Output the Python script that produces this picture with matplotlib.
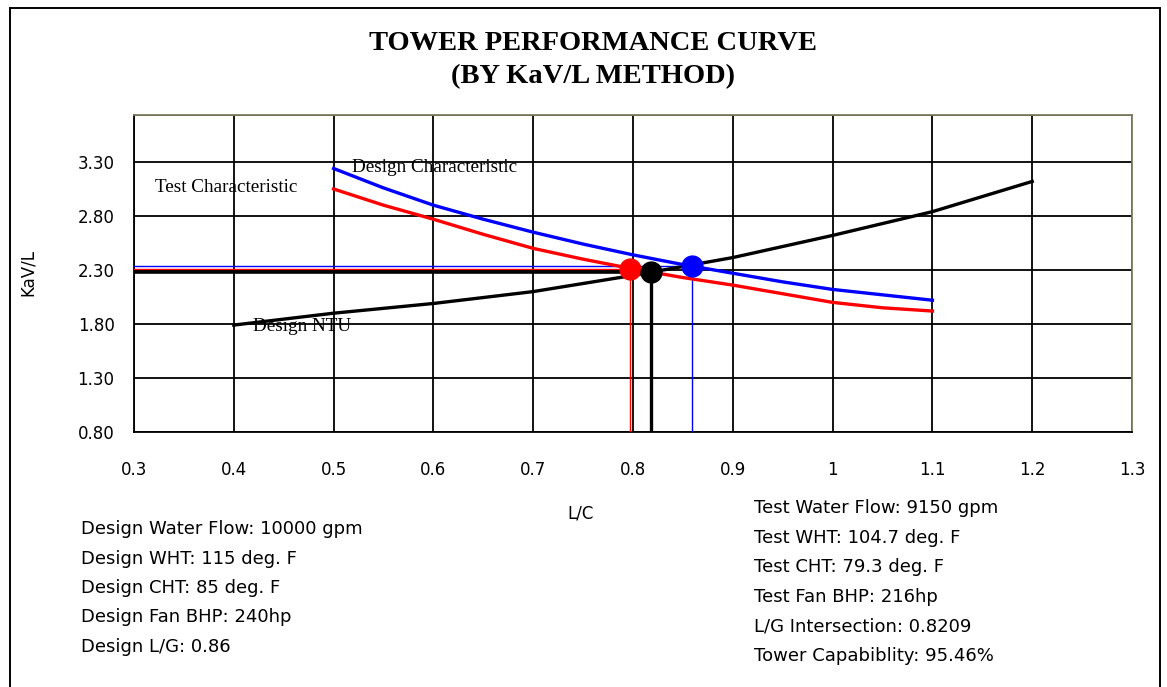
import matplotlib
matplotlib.use("Agg")
import matplotlib.pyplot as plt
from matplotlib.patches import Rectangle

# L/G points for the characteristic curves
lg_char = [0.5, 0.55, 0.6, 0.65, 0.7, 0.75, 0.8, 0.85, 0.9, 0.95, 1.0, 1.05, 1.1]
design_char = [3.24, 3.06, 2.90, 2.77, 2.65, 2.54, 2.44, 2.35, 2.27, 2.19, 2.12, 2.07, 2.02]
test_char = [3.05, 2.90, 2.77, 2.63, 2.50, 2.40, 2.31, 2.23, 2.16, 2.08, 2.00, 1.95, 1.92]

# design NTU curve
lg_ntu = [0.4, 0.5, 0.6, 0.7, 0.8, 0.9, 1.0, 1.1, 1.2]
design_ntu = [1.79, 1.90, 1.99, 2.10, 2.25, 2.415, 2.62, 2.84, 3.12]

# intersection points (x, y)
test_pt = (0.797, 2.313)
ntu_pt = (0.818, 2.28)
design_pt = (0.859, 2.334)

x_ticks = [0.3, 0.4, 0.5, 0.6, 0.7, 0.8, 0.9, 1.0, 1.1, 1.2, 1.3]
x_ticklabels = ["0.3", "0.4", "0.5", "0.6", "0.7", "0.8", "0.9", "1", "1.1", "1.2", "1.3"]
y_ticks = [0.8, 1.3, 1.8, 2.3, 2.8, 3.3]
y_ticklabels = ["0.80", "1.30", "1.80", "2.30", "2.80", "3.30"]

design_info = [
    "Design Water Flow: 10000 gpm",
    "Design WHT: 115 deg. F",
    "Design CHT: 85 deg. F",
    "Design Fan BHP: 240hp",
    "Design L/G: 0.86",
]
test_info = [
    "Test Water Flow: 9150 gpm",
    "Test WHT: 104.7 deg. F",
    "Test CHT: 79.3 deg. F",
    "Test Fan BHP: 216hp",
    "L/G Intersection: 0.8209",
    "Tower Capabiblity: 95.46%",
]

W, H = 1167, 687
fig = plt.figure(figsize=(W / 100, H / 100), dpi=100)

# outer chart frame
fig.patches.append(Rectangle((10 / W, -0.1), 1150 / W, 1.1 - 8 / H,
                             transform=fig.transFigure, fill=False,
                             edgecolor="black", linewidth=1.4))

ax = fig.add_axes([134 / W, 1 - 432 / H, 998 / W, 317 / H])
ax.set_xlim(0.3, 1.3)
ax.set_ylim(0.8, 3.735)

ax.set_xticks(x_ticks)
ax.set_xticklabels(x_ticklabels)
ax.set_yticks(y_ticks + [3.735])
ax.set_yticklabels(y_ticklabels + [""])
ax.tick_params(length=0, labelsize=12)
ax.tick_params(axis="x", pad=21)
ax.tick_params(axis="y", pad=14)
for lab in ax.get_xticklabels() + ax.get_yticklabels():
    lab.set_family("DejaVu Sans")
ax.grid(True, color="black", linewidth=1.3)
ax.set_axisbelow(True)

for s in ["left", "bottom"]:
    ax.spines[s].set_color("black")
    ax.spines[s].set_linewidth(1.3)
for s in ["top", "right"]:
    ax.spines[s].set_color("#7f7f60")
    ax.spines[s].set_linewidth(1.3)

# horizontal and vertical guide lines to the intersection points
ax.plot([0.3, design_pt[0]], [design_pt[1]] * 2, color="blue", lw=1.0, zorder=3)
ax.plot([0.3, test_pt[0]], [test_pt[1]] * 2, color="red", lw=1.0, zorder=3)
ax.plot([0.3, ntu_pt[0]], [ntu_pt[1]] * 2, color="black", lw=2.6, zorder=3)
ax.plot([test_pt[0]] * 2, [0.8, test_pt[1]], color="red", lw=1.0, zorder=3)
ax.plot([ntu_pt[0]] * 2, [0.8, ntu_pt[1]], color="black", lw=2.4, zorder=3)
ax.plot([design_pt[0]] * 2, [0.8, design_pt[1]], color="blue", lw=1.0, zorder=3)

# curves
ax.plot(lg_ntu, design_ntu, color="black", lw=2.4, zorder=4)
ax.plot(lg_char, test_char, color="red", lw=2.4, zorder=4)
ax.plot(lg_char, design_char, color="blue", lw=2.4, zorder=4)

# intersection markers
ax.plot(*test_pt, "o", color="red", ms=15, zorder=5)
ax.plot(*ntu_pt, "o", color="black", ms=15, zorder=5)
ax.plot(*design_pt, "o", color="blue", ms=15, zorder=6)

# curve labels
lbl = dict(family="Liberation Serif", fontsize=13.8, va="center", ha="left", zorder=7)
ax.text(0.518, 3.245, "Design Characteristic", **lbl)
ax.text(0.321, 3.066, "Test Characteristic", **lbl)
ax.text(0.419, 1.779, "Design NTU", **lbl)

ax.set_xlabel("L/C", family="DejaVu Sans", fontsize=12)
ax.xaxis.set_label_coords((581 - 134) / 998, -(505 - 432) / 317)
ax.set_ylabel("KaV/L", family="DejaVu Sans", fontsize=12)
ax.yaxis.set_label_coords(-(134 - 37) / 998, (432 - 272) / 317)

# title
fig.text(593 / W, 1 - 43 / H, "TOWER PERFORMANCE CURVE", ha="center", va="center",
         family="Liberation Serif", fontweight="bold", fontsize=20.5)
fig.text(593 / W, 1 - 77 / H, "(BY KaV/L METHOD)", ha="center", va="center",
         family="Liberation Serif", fontweight="bold", fontsize=20.5)

# info blocks
for i, line in enumerate(design_info):
    fig.text(81 / W, 1 - (529 + i * 29.5) / H, line, ha="left", va="center",
             family="DejaVu Sans", fontsize=13)
for i, line in enumerate(test_info):
    fig.text(754 / W, 1 - (508 + i * 29.6) / H, line, ha="left", va="center",
             family="DejaVu Sans", fontsize=13)

fig.savefig("out.png", dpi=100)
